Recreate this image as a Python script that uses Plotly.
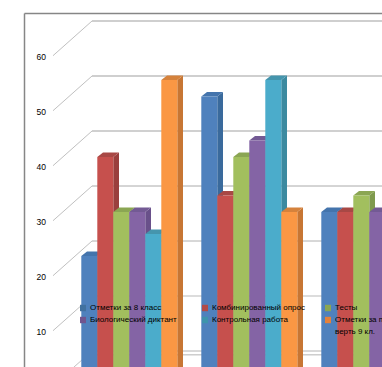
import plotly.graph_objects as go

# ---- data ----
groups = [0, 1, 2]
series_names = ["Отметки за 8 класс", "Комбинированный опрос", "Тесты",
                "Биологический диктант", "Контрольная работа",
                "Отметки за первую чет-"]
last_name_tail = "верть 9 кл."
otmetki_8 = [22, 51, 30]
kombi = [40, 33, 30]
testy = [30, 40, 33]
bio = [30, 43, 30]
kontrol = [26, 54, None]
otmetki_9 = [54, 30, None]
series_values = [otmetki_8, kombi, testy, bio, kontrol, otmetki_9]
front_colors = ["#4F81BD", "#C6504D", "#A2BF5E", "#8464A5", "#4BACCB", "#FA9744"]
side_colors = ["#3A6A9C", "#9A3F3D", "#7F9A4D", "#69508A", "#3C8AA0", "#C77634"]
top_colors = ["#4474AC", "#A84845", "#8BA653", "#735A94", "#4595AD", "#D5823C"]
legend_colors = ["#41719F", "#B24A47", "#8BA652", "#70558F", "#3E94AC", "#E5813A"]
tick_values = [0, 10, 20, 30, 40, 50, 60]

# ---- layout constants ----
W, H = 382, 367
LEFT = 47
GROUP_PX = 120.0
X0_PX = 129.3
UNIT_PX = 5.5
BAR_W = (1 - 0.2) / 6
DX = 5.7 / GROUP_PX
DV = 4.4 / UNIT_PX

def px2x(p):
    return (p - X0_PX) / GROUP_PX

x_range = [px2x(LEFT), px2x(W)]
front_range = [(385.7 - H) / UNIT_PX, 385.7 / UNIT_PX]   # tick labels plane
bar_range = [(377.0 - H) / UNIT_PX, 377.0 / UNIT_PX]     # bars plane
BACK_DV = 34.7 / UNIT_PX

fig = go.Figure()

# walls: gridlines, in the plane of the value axis
grid_style = {0: ("#b4b4b4", 1), 10: ("#d0d0d0", 1.6), 20: ("#b0b0b0", 1), 30: ("#aaaaaa", 1),
              40: ("#d0d0d0", 1.8), 50: ("#a0a0a0", 1.2), 60: ("#a0a0a0", 1.2)}
for t in tick_values:
    col, wid = grid_style[t]
    fig.add_trace(go.Scatter(x=[px2x(53), px2x(92)], y=[t, t + BACK_DV], mode="lines",
                             line=dict(color="#c0c0c0", width=1), hoverinfo="skip", showlegend=False))
    fig.add_trace(go.Scatter(x=[px2x(92), px2x(W + 5)], y=[t + BACK_DV, t + BACK_DV], mode="lines",
                             line=dict(color=col, width=wid), hoverinfo="skip", showlegend=False))
# floor edge
fig.add_trace(go.Scatter(x=[px2x(92), px2x(W + 5)], y=[BACK_DV - 0.7, BACK_DV - 0.7], mode="lines",
                         line=dict(color="#b4b4b4", width=1), hoverinfo="skip", showlegend=False))

# 3D side and top faces, computed from the values
for i, vals in enumerate(series_values):
    for g, v in zip(groups, vals):
        if v is None:
            continue
        left = g + (i - 3) * BAR_W
        right = left + BAR_W
        fig.add_trace(go.Scatter(
            x=[right, right + DX, right + DX, right, right],
            y=[v, v + DV, DV, 0, v], yaxis="y2", mode="lines", fill="toself",
            fillcolor=side_colors[i], line=dict(width=0), hoverinfo="skip", showlegend=False))
        fig.add_trace(go.Scatter(
            x=[left, left + DX, right + DX, right, left],
            y=[v, v + DV, v + DV, v, v], yaxis="y2", mode="lines", fill="toself",
            fillcolor=top_colors[i], line=dict(width=0), hoverinfo="skip", showlegend=False))

# front faces
for i, vals in enumerate(series_values):
    fig.add_trace(go.Bar(x=groups, y=vals, name=series_names[i], yaxis="y3",
                         marker=dict(color=front_colors[i], line=dict(width=0)), showlegend=False))

# legend drawn to sit inside the plot as in the reference
legend_pos = [(80, 308), (202, 308), (325, 308), (80, 320), (202, 320), (325, 320)]
paper_x = lambda p: (p - LEFT) / (W - LEFT)
shapes = [dict(type="line", xref="paper", yref="paper", x0=paper_x(24.5), x1=1.02,
               y0=1 - 13.5 / H, y1=1 - 13.5 / H, line=dict(color="#868686", width=1.5)),
          dict(type="line", xref="paper", yref="paper", x0=paper_x(24.5), x1=paper_x(24.5),
               y0=-0.02, y1=1 - 13.5 / H, line=dict(color="#868686", width=1.5))]
annotations = []
for i, (px, py) in enumerate(legend_pos):
    shapes.append(dict(type="rect", xref="paper", yref="paper",
                       x0=paper_x(px), x1=paper_x(px + 6),
                       y0=1 - (py + 3.2) / H, y1=1 - (py - 3.2) / H,
                       fillcolor=legend_colors[i], line=dict(width=0), layer="above"))
    annotations.append(dict(xref="paper", yref="paper", x=paper_x(px + 8.5),
                            y=1 - (py - 6) / H, xanchor="left", yanchor="top", align="left",
                            text=series_names[i], showarrow=False, borderpad=0,
                            font=dict(family="Liberation Sans", size=8, color="#000000")))
annotations.append(dict(xref="paper", yref="paper", x=paper_x(333.5), y=1 - 325.5 / H,
                        xanchor="left", yanchor="top", align="left", text=last_name_tail,
                        showarrow=False, borderpad=0,
                        font=dict(family="Liberation Sans", size=8, color="#000000")))

fig.update_layout(
    width=W, height=H, margin=dict(l=LEFT, r=0, t=0, b=0),
    paper_bgcolor="white", plot_bgcolor="white",
    barmode="group", bargap=0.2, bargroupgap=0,
    showlegend=False, shapes=shapes, annotations=annotations,
    font=dict(family="Liberation Sans", size=9, color="#000000"),
    xaxis=dict(range=x_range, showgrid=False, zeroline=False, showticklabels=False, ticks="", showline=False),
    yaxis=dict(range=front_range, tickvals=tick_values[1:], showgrid=False, zeroline=False,
               showline=False, ticks="", ticklabelshift=1, tickfont=dict(size=8.5, color="#000000")),
    yaxis2=dict(range=bar_range, overlaying="y", visible=False, showgrid=False, zeroline=False),
    yaxis3=dict(range=bar_range, overlaying="y", visible=False, showgrid=False, zeroline=False),
)

fig.write_html("out.html", config=dict(displayModeBar=False),
               post_script="document.body.style.margin='0';document.documentElement.style.overflow='hidden';")
